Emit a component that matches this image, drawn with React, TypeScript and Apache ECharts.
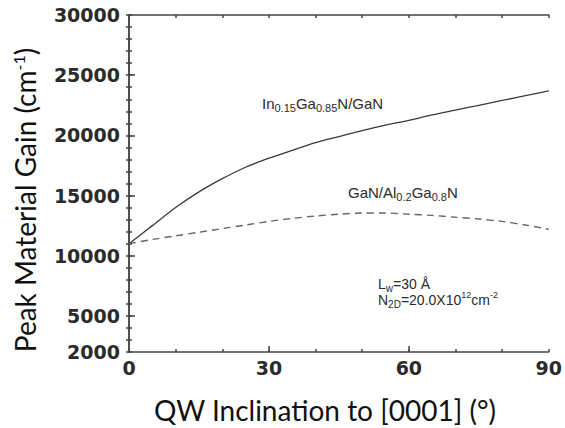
import React, { useEffect, useRef } from "react";
import * as echarts from "echarts";

const angles = [0, 5, 10, 15, 20, 25, 30, 35, 40, 45, 50, 55, 60, 65, 70, 75, 80, 85, 90];
const inGaNGain = [11000, 12500, 14000, 15300, 16400, 17350, 18100, 18750, 19400, 19900, 20400, 20850, 21250, 21700, 22100, 22500, 22900, 23300, 23700];
const ganAlGaNGain = [11000, 11350, 11650, 11950, 12250, 12550, 12850, 13100, 13300, 13450, 13550, 13550, 13450, 13350, 13200, 13050, 12850, 12550, 12200];
const xLabelValues = [0, 30, 60, 90];
const xMajorTicks = [30, 60];
const yLabelValues = [2000, 5000, 10000, 15000, 20000, 25000, 30000];
const yMajorTicks = [5000, 10000, 15000, 20000, 25000];

const axisColor = "#444";
const textColor = "#2b2b2b";

export default function App() {
  const ref = useRef<HTMLDivElement>(null);
  useEffect(() => {
    const chart = echarts.init(ref.current!, null, { renderer: "svg" });
    const tickLabel = {
      fontFamily: "DejaVu Sans",
      fontWeight: "bold" as const,
      fontSize: 19,
      color: textColor,
      formatter: (v: number) => String(v),
    };
    const baseX = { type: "value" as const, min: 0, max: 90, interval: 10, splitLine: { show: false } };
    const baseY = { type: "value" as const, min: 2000, max: 30000, interval: 1000, splitLine: { show: false } };
    const lineStyle = { color: axisColor, width: 1.5 };
    const ann = {
      fill: textColor,
      fontFamily: "Liberation Sans",
    };
    chart.setOption({
      animation: false,
      grid: { left: 129, right: 15, top: 15, bottom: 76 },
      xAxis: [
        {
          ...baseX,
          position: "bottom",
          axisLine: { show: true, lineStyle },
          axisTick: { show: true, inside: true, length: 6, customValues: xMajorTicks, lineStyle },
          axisLabel: { ...tickLabel, margin: 6, customValues: xLabelValues },
        },
        {
          ...baseX,
          position: "bottom",
          axisLine: { show: false },
          axisTick: { show: true, inside: true, length: 3, lineStyle },
          axisLabel: { show: false },
        },
        {
          ...baseX,
          position: "top",
          axisLine: { show: true, lineStyle },
          axisTick: { show: true, inside: true, length: 3, lineStyle },
          axisLabel: { show: false },
        },
      ],
      yAxis: [
        {
          ...baseY,
          position: "left",
          axisLine: { show: true, lineStyle },
          axisTick: { show: true, inside: true, length: 6, customValues: yMajorTicks, lineStyle },
          axisLabel: { ...tickLabel, margin: 9, customValues: yLabelValues },
        },
        {
          ...baseY,
          position: "left",
          axisLine: { show: false },
          axisTick: { show: true, inside: true, length: 3, lineStyle },
          axisLabel: { show: false },
        },
        {
          ...baseY,
          position: "right",
          axisLine: { show: true, lineStyle },
          axisTick: { show: true, inside: true, length: 3, lineStyle },
          axisLabel: { show: false },
        },
      ],
      series: [
        {
          name: "In0.15Ga0.85N/GaN",
          type: "line",
          xAxisIndex: 0,
          yAxisIndex: 0,
          showSymbol: false,
          smooth: 0.3,
          data: angles.map((a, i) => [a, inGaNGain[i]]),
          lineStyle: { color: "#3a3a3a", width: 1.3 },
        },
        {
          name: "GaN/Al0.2Ga0.8N",
          type: "line",
          xAxisIndex: 0,
          yAxisIndex: 0,
          showSymbol: false,
          smooth: 0.3,
          data: angles.map((a, i) => [a, ganAlGaNGain[i]]),
          lineStyle: { color: "#666", width: 1.4, type: [7, 5] },
        },
      ],
      graphic: [
        {
          type: "text",
          x: 25,
          y: 200,
          rotation: Math.PI / 2,
          style: {
            text: "{m|Peak Material Gain (cm}{sup|-1}{m|)}",
            align: "center",
            verticalAlign: "middle",
            rich: {
              m: { fontFamily: "Lato", fontSize: 28, fill: "#111" },
              sup: { fontFamily: "Lato", fontSize: 16, fill: "#111", padding: [0, 0, 14, 0] },
            },
          },
        },
        {
          type: "text",
          x: 325,
          y: 410,
          style: {
            text: "QW Inclination to [0001] (°)",
            align: "center",
            verticalAlign: "middle",
            fontFamily: "Lato",
            fontSize: 28,
            fill: "#111",
          },
        },
        {
          type: "text",
          x: 262,
          y: 103,
          style: {
            text: "{m|In}{s|0.15}{m|Ga}{s|0.85}{m|N/GaN}",
            align: "left",
            verticalAlign: "middle",
            rich: {
              m: { ...ann, fontSize: 15 },
              s: { ...ann, fontSize: 11, padding: [10, 0, 0, 0] },
            },
          },
        },
        {
          type: "text",
          x: 348,
          y: 192,
          style: {
            text: "{m|GaN/Al}{s|0.2}{m|Ga}{s|0.8}{m|N}",
            align: "left",
            verticalAlign: "middle",
            rich: {
              m: { ...ann, fontSize: 15 },
              s: { ...ann, fontSize: 11, padding: [10, 0, 0, 0] },
            },
          },
        },
        {
          type: "text",
          x: 378,
          y: 284,
          style: {
            text: "{m|L}{s|w}{m|=30 Å}",
            align: "left",
            verticalAlign: "middle",
            rich: {
              m: { ...ann, fontSize: 14 },
              s: { ...ann, fontSize: 10, padding: [8, 0, 0, 0] },
            },
          },
        },
        {
          type: "text",
          x: 378,
          y: 300,
          style: {
            text: "{m|N}{s|2D}{m|=20.0X10}{p|12}{m|cm}{p|-2}",
            align: "left",
            verticalAlign: "middle",
            rich: {
              m: { ...ann, fontSize: 14 },
              s: { ...ann, fontSize: 10, padding: [8, 0, 0, 0] },
              p: { ...ann, fontSize: 9, padding: [0, 0, 10, 0] },
            },
          },
        },
      ],
    });
    return () => chart.dispose();
  }, []);
  return <div ref={ref} style={{ width: 565, height: 428, position: "absolute", left: 0, top: 0 }} />;
}
